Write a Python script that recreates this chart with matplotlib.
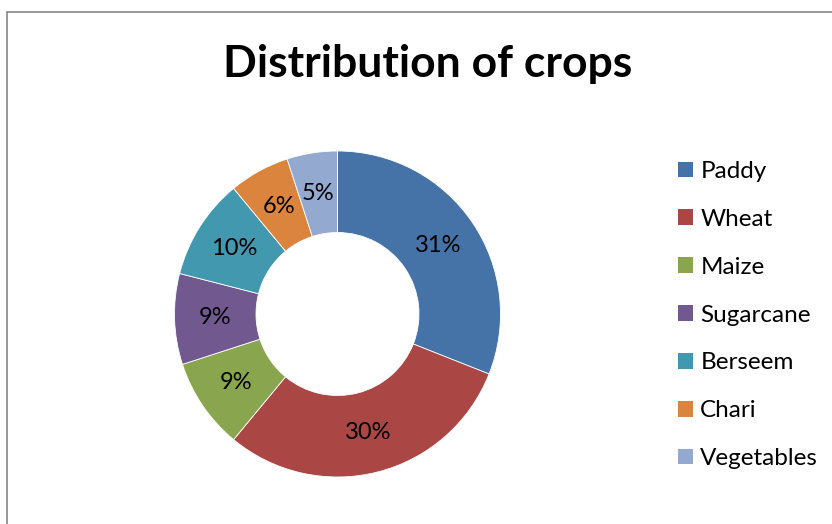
import matplotlib
matplotlib.use("Agg")
import matplotlib.pyplot as plt
from matplotlib.patches import Rectangle

categories = ["Paddy", "Wheat", "Maize", "Sugarcane", "Berseem", "Chari", "Vegetables"]
values = [31, 30, 9, 9, 10, 6, 5]
colors = ["#4572A7", "#AA4643", "#89A54E", "#71588F", "#4198AF", "#DB843D", "#93A9CF"]
title = "Distribution of crops"

plt.rcParams['font.family'] = ['Lato', 'DejaVu Sans']

W, H = 832, 524
fig = plt.figure(figsize=(W / 100, H / 100), dpi=100)

# border
fig.patches.append(Rectangle((7 / W, -0.1), 1.2, (H - 12) / H + 0.1, transform=fig.transFigure,
                             fill=False, edgecolor="#868686", linewidth=1.2))

cx, cy, R = 337.5, 314, 163
ax = fig.add_axes([(cx - R) / W, (H - cy - R) / H, 2 * R / W, 2 * R / H])
wedges, texts, autotexts = ax.pie(values, colors=colors, startangle=90, counterclock=False,
                                  radius=1, autopct='%1.0f%%', pctdistance=0.75,
                                  wedgeprops=dict(width=0.5, edgecolor='white', linewidth=0.6),
                                  textprops=dict(fontsize=17, color='black'))
ax.set_xlim(-1, 1)
ax.set_ylim(-1, 1)
ax.set_aspect('equal')
ax.axis('off')

fig.text(428 / W, 1 - 64 / H, title, ha='center', va='center', fontsize=32, fontweight='bold')

leg = fig.legend(wedges, categories, loc='upper left', bbox_to_anchor=(678 / W, 1 - 161 / H),
                 frameon=False, fontsize=17.5, handlelength=0.62, handleheight=0.62,
                 handletextpad=0.3, labelspacing=1.105, borderaxespad=0, borderpad=0)
for h in leg.legend_handles:
    h.set_edgecolor('none')

fig.savefig("out.png", dpi=100)
